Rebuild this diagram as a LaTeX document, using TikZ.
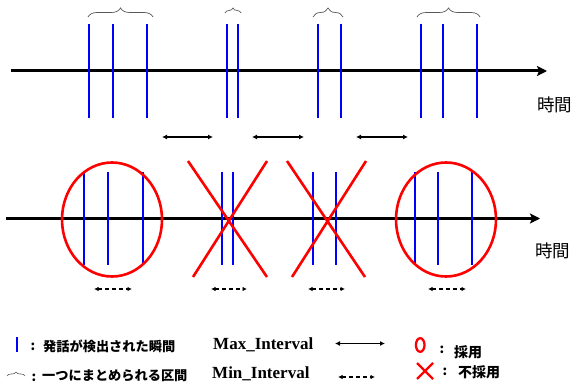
\documentclass[tikz,border=0pt]{standalone}
\usepackage{fontspec}
\setmainfont{Liberation Serif}
\newfontfamily\jpfont{Noto Sans CJK JP}
\usetikzlibrary{arrows.meta, decorations.pathreplacing}
\definecolor{talkblue}{RGB}{0,0,255}
\definecolor{markred}{RGB}{255,0,0}
\definecolor{bracegray}{RGB}{90,90,90}

\begin{document}
\begin{tikzpicture}[x=1pt, y=-1pt,
    blueline/.style={talkblue, line width=1.8pt},
    redmark/.style={markred, line width=2.6pt},
    timeaxis/.style={line width=3pt, -{Stealth[length=10pt,width=10pt,inset=2pt]}},
    maxarrow/.style={line width=1.5pt, {Latex[length=5pt,width=5pt]}-{Latex[length=5pt,width=5pt]}},
    minarrow/.style={line width=1.2pt, dash pattern=on 4pt off 3pt, {Latex[length=4.5pt,width=4.5pt]}-{Latex[length=4.5pt,width=4.5pt]}},
    grpbrace/.style={bracegray, line width=0.7pt, decorate, decoration={brace, amplitude=#1}},
    jptext/.style={font=\jpfont\fontsize{13.2}{15}\selectfont\bfseries, inner sep=0pt},
    axislabel/.style={font=\jpfont\fontsize{17.5}{19}\selectfont, inner sep=0pt}]
    \useasboundingbox (0,0) rectangle (577,382);

    % Upper timeline
    \draw[timeaxis] (11,71) -- (547,71);
    \foreach \x in {88.7, 113.3, 147, 226.7, 238, 318, 340.7, 420.7, 442.7, 477.3} {
        \draw[blueline] (\x,24) -- (\x,118);
    }
    \draw[grpbrace=9pt] (88,17) -- (153,17);
    \draw[grpbrace=5pt] (225,13) -- (241,13);
    \draw[grpbrace=9pt] (313,17) -- (343,17);
    \draw[grpbrace=9pt] (417,17) -- (480,17);
    \node[axislabel] (timeup) at (554.5,105) {時間};

    % Max interval gaps
    \foreach \a/\b in {162/213, 252/304, 356/408} {
        \draw[maxarrow] (\a,137) -- (\b,137);
    }

    % Lower timeline
    \draw[timeaxis] (6,218.5) -- (540,218.5);
    \foreach \x in {84.3, 108.3, 142.7, 222, 233, 313, 336, 415, 437.7, 472.3} {
        \draw[blueline, line width=1.7pt] (\x,172) -- (\x,265);
    }
    \draw[redmark] (112,219.5) ellipse [x radius=50, y radius=57];
    \draw[redmark] (446,219.5) ellipse [x radius=50, y radius=57];
    \draw[redmark] (188,161) -- (267,277) (193,277) -- (267,161);
    \draw[redmark] (287,161) -- (365,277) (292,277) -- (366,161);
    \node[axislabel] (timedown) at (552.5,251) {時間};

    % Min interval gaps
    \foreach \a/\b in {94/132, 211/247, 308/345, 428/466} {
        \draw[minarrow] (\a,289) -- (\b,289);
    }

    % Legend
    \draw[blueline, line width=1.6pt] (16.7,337) -- (16.7,352);
    \node[jptext] (colA) at (33,347) {:};
    \node[jptext, anchor=west] (talk) at (43,346.5) {発話が検出された瞬間};
    \draw[grpbrace=4pt, line width=0.6pt] (7,376) -- (25,376);
    \node[jptext] (colB) at (34,377.5) {:};
    \node[jptext, anchor=west] (merge) at (42,376) {一つにまとめられる区間};

    \node[font=\fontsize{17}{19}\selectfont\bfseries, anchor=base west, inner sep=0pt] (maxlbl) at (213,349) {Max\_Interval};
    \node[font=\fontsize{17}{19}\selectfont\bfseries, anchor=base west, inner sep=0pt] (minlbl) at (212,378.5) {Min\_Interval};
    \draw[maxarrow] (335,343.5) -- (385,343.5);
    \draw[minarrow] (338,377) -- (375,377);

    \draw[redmark, line width=2.3pt] (420.2,345) ellipse [x radius=4.3, y radius=6.8];
    \node[jptext] (colC) at (442,350) {:};
    \node[jptext, font=\jpfont\fontsize{14}{16}\selectfont\bfseries, anchor=west] (adopt) at (454,352) {採用};
    \draw[redmark, line width=2.3pt] (417,363) -- (433,379) (433,363) -- (417,379);
    \node[jptext] (colD) at (445,372) {:};
    \node[jptext, font=\jpfont\fontsize{14}{16}\selectfont\bfseries, anchor=west] (reject) at (458,372.5) {不採用};
\end{tikzpicture}
\end{document}
